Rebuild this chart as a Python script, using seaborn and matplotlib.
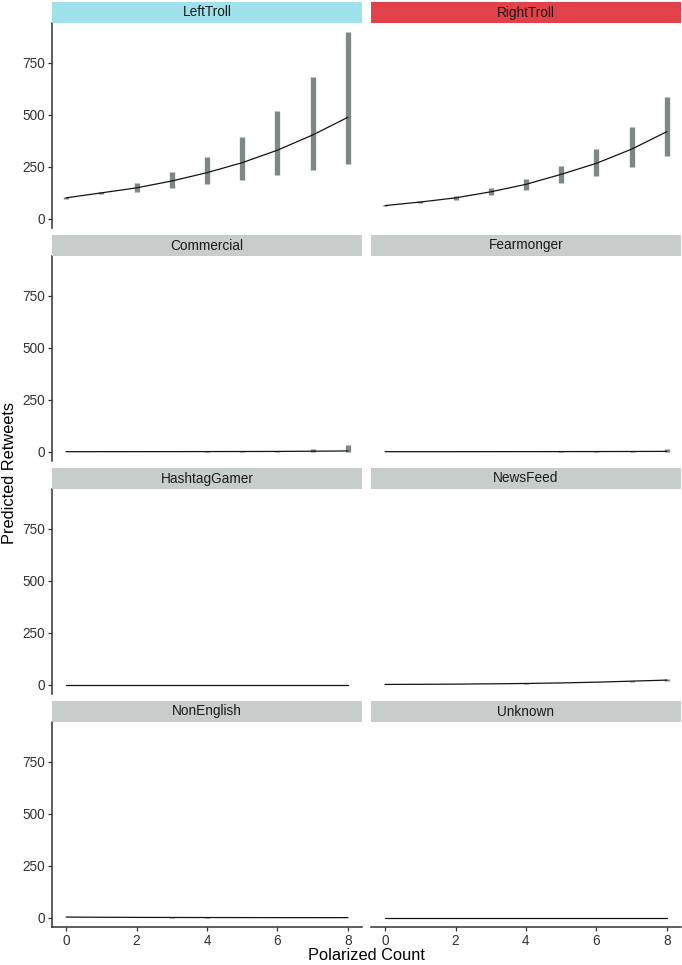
import matplotlib
matplotlib.use("Agg")
import matplotlib.pyplot as plt
from matplotlib.patches import Rectangle
import numpy as np
import pandas as pd
import seaborn as sns

# ---------------- data ----------------
account_types = ["LeftTroll", "RightTroll", "Commercial", "Fearmonger",
                 "HashtagGamer", "NewsFeed", "NonEnglish", "Unknown"]
polarized_count = [0, 1, 2, 3, 4, 5, 6, 7, 8]

left_pred = [100, 124, 148, 181, 221, 269, 329, 402, 487]
left_lo = [96, 119, 127, 147, 165, 184, 208, 234, 263]
left_hi = [104, 129, 169, 224, 297, 390, 516, 679, 895]

right_pred = [63, 80, 100, 129, 165, 213, 266, 334, 418]
right_lo = [61, 77, 92, 113, 137, 171, 205, 248, 302]
right_hi = [65, 84, 108, 145, 192, 253, 334, 439, 582]

commercial_pred = [0.1, 0.1, 0.2, 0.3, 0.5, 0.8, 1.3, 2.2, 3.6]
commercial_lo = [0.0, 0.0, 0.0, 0.1, 0.1, 0.1, 0.2, 0.3, 0.5]
commercial_hi = [0.2, 0.3, 0.4, 0.6, 1.0, 2.0, 4.5, 12, 34]

fearmonger_pred = [0.1, 0.1, 0.1, 0.2, 0.3, 0.4, 0.6, 1.0, 1.5]
fearmonger_lo = [0.0, 0.0, 0.0, 0.0, 0.1, 0.1, 0.1, 0.2, 0.3]
fearmonger_hi = [0.2, 0.2, 0.3, 0.4, 0.6, 1.0, 1.8, 4.0, 11]

hashtag_pred = [0.2, 0.2, 0.2, 0.2, 0.2, 0.2, 0.2, 0.2, 0.2]
hashtag_lo = [0.1, 0.1, 0.1, 0.1, 0.1, 0.1, 0.1, 0.1, 0.1]
hashtag_hi = [0.3, 0.3, 0.3, 0.3, 0.3, 0.3, 0.3, 0.3, 0.4]

newsfeed_pred = [1.2, 1.8, 2.7, 4.0, 5.8, 8.5, 12, 17, 22]
newsfeed_lo = [1.0, 1.6, 2.4, 3.6, 5.2, 7.5, 10.5, 14.5, 18]
newsfeed_hi = [1.4, 2.0, 3.0, 4.4, 6.4, 9.5, 13.5, 19.5, 26]

nonenglish_pred = [3.0, 2.0, 1.4, 1.0, 0.7, 0.5, 0.35, 0.25, 0.18]
nonenglish_lo = [2.4, 1.7, 1.2, 0.8, 0.5, 0.3, 0.2, 0.1, 0.05]
nonenglish_hi = [3.6, 2.3, 1.6, 1.2, 0.9, 0.7, 0.5, 0.4, 0.3]

unknown_pred = [0.5, 0.5, 0.5, 0.5, 0.5, 0.5, 0.5, 0.5, 0.5]
unknown_lo = [0.3, 0.3, 0.3, 0.3, 0.3, 0.3, 0.3, 0.3, 0.3]
unknown_hi = [0.7, 0.7, 0.7, 0.7, 0.7, 0.7, 0.7, 0.7, 0.8]

y_ticks = [0, 250, 500, 750]
x_ticks = [0, 2, 4, 6, 8]

series = {
    "LeftTroll": (left_pred, left_lo, left_hi),
    "RightTroll": (right_pred, right_lo, right_hi),
    "Commercial": (commercial_pred, commercial_lo, commercial_hi),
    "Fearmonger": (fearmonger_pred, fearmonger_lo, fearmonger_hi),
    "HashtagGamer": (hashtag_pred, hashtag_lo, hashtag_hi),
    "NewsFeed": (newsfeed_pred, newsfeed_lo, newsfeed_hi),
    "NonEnglish": (nonenglish_pred, nonenglish_lo, nonenglish_hi),
    "Unknown": (unknown_pred, unknown_lo, unknown_hi),
}

rows = []
for t in account_types:
    p, lo, hi = series[t]
    for x, a, b, c in zip(polarized_count, p, lo, hi):
        rows.append({"type": t, "x": x, "pred": a, "lo": b, "hi": c})
df = pd.DataFrame(rows)

strip_colors = {"LeftTroll": "#9fe2ec", "RightTroll": "#e2414a"}
default_strip = "#c6cdcb"

# ---------------- style ----------------
sns.set_theme(style="ticks")
plt.rcParams["font.family"] = ["Liberation Sans", "DejaVu Sans"]

W, H = 682, 965
g = sns.FacetGrid(df, col="type", col_wrap=2, col_order=account_types,
                  sharex=True, sharey=True, height=2.0, aspect=1.5,
                  despine=False)


def draw(data, **kw):
    ax = plt.gca()
    ax.vlines(data["x"], data["lo"], data["hi"], colors="#7d8886",
              linewidth=3.8, zorder=2)
    sns.lineplot(data=data, x="x", y="pred", ax=ax, color="#141414",
                 linewidth=0.9, zorder=3, estimator=None)


g.map_dataframe(draw)
fig = g.figure
fig.set_size_inches(W / 100, H / 100)

# panel geometry in pixels
col_left = [52, 371]
pw = 310
row_top = [23, 256, 489, 722]
ph = 205
strip_h = 21

for i, (ax, t) in enumerate(zip(g.axes.flat, account_types)):
    r, c = divmod(i, 2)
    ax.set_position([col_left[c] / W, 1 - (row_top[r] + ph) / H, pw / W, ph / H])
    ax.set_xlim(-0.4, 8.4)
    ax.set_ylim(-44.75, 939.75)
    ax.set_title("")
    ax.set_xlabel("")
    ax.set_ylabel("")
    ax.set_xticks(x_ticks)
    ax.set_yticks(y_ticks)
    for s in ["top", "right"]:
        ax.spines[s].set_visible(False)
    for s in ["left", "bottom"]:
        ax.spines[s].set_color("#333333")
        ax.spines[s].set_linewidth(1.1)
    ax.tick_params(axis="both", colors="#333333", labelcolor="#333333",
                   labelsize=9.8, length=3, width=0.9, pad=2)
    if c == 1:
        ax.spines["left"].set_visible(False)
        ax.tick_params(axis="y", left=False, labelleft=False)
    else:
        ax.tick_params(axis="y", left=True, labelleft=True)
    if r < 3:
        ax.spines["bottom"].set_visible(False)
        ax.tick_params(axis="x", bottom=False, labelbottom=False)
    else:
        ax.tick_params(axis="x", bottom=True, labelbottom=True)
    # strip
    sh = strip_h / ph
    rect = Rectangle((0, 1.0), 1, sh, transform=ax.transAxes,
                     facecolor=strip_colors.get(t, default_strip),
                     edgecolor="none", clip_on=False, zorder=5)
    ax.add_patch(rect)
    ax.text(0.5, 1.0 + sh / 2, t, transform=ax.transAxes, ha="center",
            va="center", fontsize=9.8, color="#1a1a1a", zorder=6)

fig.text((52 + 680) / 2 / W, 1 - 956 / H, "Polarized Count", ha="center",
         va="center", fontsize=11.8, color="#000000")
fig.text(10 / W, 1 - 473 / H, "Predicted Retweets", ha="center",
         va="center", rotation=90, fontsize=11.8, color="#000000")

fig.savefig("out.png", dpi=100)
